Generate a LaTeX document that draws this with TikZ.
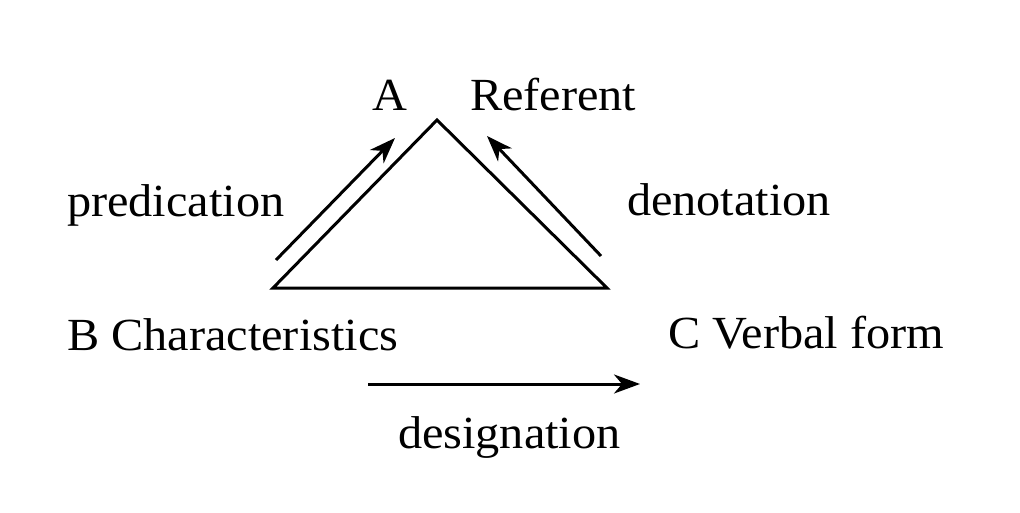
\documentclass[tikz,border=0pt]{standalone}
\usepackage{fontspec}
\setmainfont{Liberation Serif}
\usetikzlibrary{arrows.meta}
\newcommand{\lbltxt}[1]{\scalebox{1.05}[1]{\fontsize{46}{52}\selectfont #1}}
\tikzset{
  lbl/.style={anchor=base west, inner sep=0pt, outer sep=0pt, font=\fontsize{46}{52}\selectfont},
  side/.style={line width=3pt, line join=miter},
  flow/.style={line width=3pt, -{Stealth[length=26pt,width=19pt,inset=8pt]}}
}
\begin{document}
\begin{tikzpicture}[x=1pt,y=-1pt]
\useasboundingbox (0,0) rectangle (1020,513);
% triangle corners
\coordinate (A) at (437,120);
\coordinate (B) at (273,288);
\coordinate (C) at (607,288);
\draw[side] (A) -- (B) -- (C) -- cycle;
% arrow end points
\coordinate (p1) at (276,260);
\coordinate (p2) at (395,138);
\coordinate (d1) at (601,256);
\coordinate (d2) at (487,136);
\coordinate (g1) at (368,384);
\coordinate (g2) at (640,384);
\draw[flow] (p1) -- (p2);
\draw[flow] (d1) -- (d2);
\draw[flow] (g1) -- (g2);
% labels
\node[lbl] (la) at (372,111) {\lbltxt{A}};
\node[lbl] (lr) at (470,111) {\lbltxt{Referent}};
\node[lbl] (lp) at (67,217) {\lbltxt{predication}};
\node[lbl] (ld) at (627,216) {\lbltxt{denotation}};
\node[lbl] (lb) at (67,350) {\lbltxt{B Characteristics}};
\node[lbl] (lc) at (668,348) {\lbltxt{C Verbal form}};
\node[lbl] (lg) at (398,448) {\lbltxt{designation}};
\end{tikzpicture}
\end{document}
